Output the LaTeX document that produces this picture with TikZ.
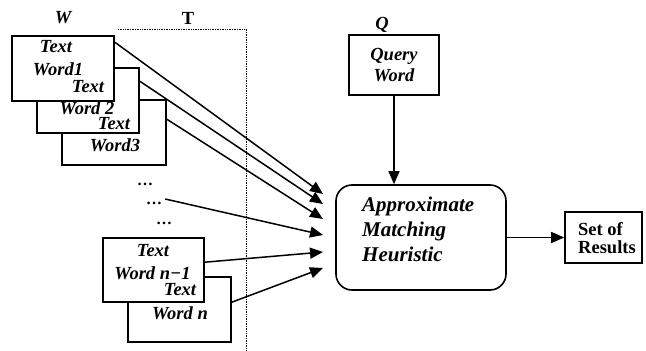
\documentclass[tikz,border=0pt]{standalone}
\usepackage{fontspec}
\setmainfont{Liberation Serif}
\usetikzlibrary{arrows.meta}
\begin{document}
\begin{tikzpicture}[x=1pt,y=-1pt,
  wbox/.style={draw,line width=1.6pt,fill=white,inner sep=0pt},
  lbl/.style={inner sep=0pt,font=\fontsize{18.5}{20}\selectfont\bfseries\itshape},
  conn/.style={line width=1.5pt,-{Triangle[length=13pt,width=11pt]}},
  dotl/.style={densely dotted,line width=0.7pt}]
\useasboundingbox (0,0) rectangle (646,351);
% guide
\draw[dotl] (118,29) -- (246,29) -- (246,351);
\node[lbl] (W) at (63,18) {W};
\node[lbl,font=\fontsize{18.5}{20}\selectfont\bfseries] (T) at (188,18) {T};
% stacked boxes
\node[wbox,minimum width=104pt,minimum height=65pt] (b3) at (114,132.5) {};
\node[wbox,minimum width=102pt,minimum height=65pt] (b2) at (88,100.5) {};
\node[wbox,minimum width=102pt,minimum height=65pt] (b1) at (63,68.5) {};
\node[lbl] (t1a) at (56,47) {Text};
\node[lbl] (t1b) at (58,69) {Word1};
\node[lbl] (t2a) at (88,87) {Text};
\node[lbl] (t2b) at (87,108) {Word 2};
\node[lbl] (t3a) at (114,124) {Text};
\node[lbl] (t3b) at (115,145) {Word3};
% dots
\node[lbl,font=\fontsize{16}{18}\selectfont\bfseries] (d1) at (145,184) {\dots};
\node[lbl,font=\fontsize{16}{18}\selectfont\bfseries] (d2) at (154,203) {\dots};
\node[lbl,font=\fontsize{16}{18}\selectfont\bfseries] (d3) at (164,223) {\dots};
% last boxes
\node[wbox,minimum width=103pt,minimum height=65pt] (bn) at (179.5,309.5) {};
\node[wbox,minimum width=101pt,minimum height=64pt] (bm) at (153.5,270) {};
\node[lbl] (tma) at (153,251) {Text};
\node[lbl] (tmb) at (152.5,273) {Word n−1};
\node[lbl] (tna) at (180,290) {Text};
\node[lbl] (tnb) at (180,313) {Word n};
% query
\node[lbl] (Q) at (382,25) {Q};
\node[wbox,minimum width=90pt,minimum height=60pt,align=center,
      font=\fontsize{18.5}{21}\selectfont\bfseries\itshape] (q) at (394,65) {Query\\Word};
% heuristic
\node[wbox,rounded corners=16pt,minimum width=170pt,minimum height=105pt] (h) at (421,237.5) {};
\node[inner sep=0pt,anchor=west,align=left,
      font=\fontsize{21}{25}\selectfont\bfseries\itshape] (ht) at (362,229) {Approximate\\Matching\\Heuristic};
% results
\node[wbox,minimum width=77pt,minimum height=51pt] (r) at (603.5,237.5) {};
\node[inner sep=0pt,anchor=west,align=left,
      font=\fontsize{18.5}{18}\selectfont\bfseries] (rt) at (578,238) {Set of\\Results};
% arrow ends
\coordinate (a1) at (323,194);
\coordinate (a2) at (323,204);
\coordinate (a3) at (323,219);
\coordinate (a4) at (323,235);
\coordinate (a5) at (323,252);
\coordinate (a6) at (323,268);
\draw[conn] ([yshift=-7pt]b1.north east) -- (a1);
\draw[conn] ([yshift=-14pt]b2.north east) -- (a2);
\draw[conn] ([yshift=-20pt]b3.north east) -- (a3);
\draw[conn] ([xshift=3pt,yshift=4pt]d2.east) -- (a4);
\draw[conn] ([yshift=-25pt]bm.north east) -- (a5);
\draw[conn] ([yshift=-26pt]bn.north east) -- (a6);
\draw[conn] (q.south) -- (q.south |- h.north);
\draw[conn] (h.east) -- (r.west);
\end{tikzpicture}
\end{document}
